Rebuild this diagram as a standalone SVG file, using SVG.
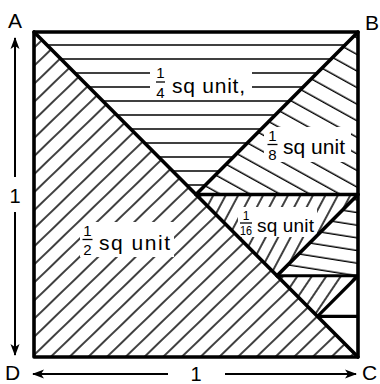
<svg xmlns="http://www.w3.org/2000/svg" width="380" height="384" viewBox="0 0 380 384">
<style>
.h{stroke:#000;stroke-width:1.5}
.thick{stroke:#000;stroke-width:3.6;fill:none;stroke-linecap:round;stroke-linejoin:round}
.med{stroke:#000;stroke-width:3.2;fill:none}
.lbl{font-family:"Liberation Sans",Arial,sans-serif;fill:#000}
.big{font-size:21px}
.num{font-size:15px}
.corner{font-family:"Liberation Sans",Arial,sans-serif;font-size:21px;fill:#000}
.ax{stroke:#000;stroke-width:2;fill:none}
.bar{stroke:#000;stroke-width:1.3}
.gap{fill:#fff}
</style>
<defs>
<pattern id="pHalf" patternUnits="userSpaceOnUse" width="40" height="13" patternTransform="rotate(-44)"><line class="h" x1="0" y1="6" x2="40" y2="6"/></pattern>
<pattern id="pQuarter" patternUnits="userSpaceOnUse" width="40" height="14"><line class="h" x1="0" y1="3" x2="40" y2="3"/></pattern>
<pattern id="pEighth" patternUnits="userSpaceOnUse" width="40" height="14.5" patternTransform="rotate(29)"><line class="h" x1="0" y1="5" x2="40" y2="5"/></pattern>
<pattern id="pSixteenth" patternUnits="userSpaceOnUse" width="40" height="11" patternTransform="rotate(-62)"><line class="h" x1="0" y1="5" x2="40" y2="5"/></pattern>
<pattern id="p32" patternUnits="userSpaceOnUse" width="40" height="12.5" patternTransform="rotate(9)"><line class="h" x1="0" y1="4" x2="40" y2="4"/></pattern>
<pattern id="p64" patternUnits="userSpaceOnUse" width="40" height="12" patternTransform="rotate(-56)"><line class="h" x1="0" y1="5" x2="40" y2="5"/></pattern>
<marker id="ah" viewBox="0 0 12 10" refX="11" refY="5" markerWidth="12" markerHeight="10" markerUnits="userSpaceOnUse" orient="auto">
<path d="M0,0.5 L12,5 L0,9.5 L3,5 z" fill="#000"/>
</marker>
</defs>

<g id="hatching">
<polygon id="region-half" points="34,32 34,357 358,357" fill="url(#pHalf)"/>
<polygon id="region-quarter" points="34,32 358,32 196,194.5" fill="url(#pQuarter)"/>
<polygon id="region-eighth" points="358,32 358,194.5 196,194.5" fill="url(#pEighth)"/>
<polygon id="region-sixteenth" points="196,194.5 358,194.5 277,275.75" fill="url(#pSixteenth)"/>
<polygon id="region-32" points="358,194.5 358,275.75 277,275.75" fill="url(#p32)"/>
<polygon id="region-64" points="277,275.75 358,275.75 317.5,316.4" fill="url(#p64)"/>
<rect class="gap" x="150" y="64" width="102" height="35"/>
<rect class="gap" x="80" y="222" width="94" height="35"/>
<rect class="gap" x="264" y="127" width="87" height="35"/>
<rect class="gap" x="238" y="207" width="79" height="30"/>
</g>

<g id="outlines">
<rect class="thick" x="34" y="32" width="324" height="325"/>
<line class="thick" x1="34" y1="32" x2="358" y2="357"/>
<line class="thick" x1="358" y1="32" x2="196" y2="194.5"/>
<line class="thick" x1="196" y1="194.5" x2="358" y2="194.5"/>
<line class="thick" x1="358" y1="194.5" x2="277" y2="275.75"/>
<line class="med" x1="277" y1="275.75" x2="358" y2="275.75"/>
<line class="med" x1="358" y1="275.75" x2="317.5" y2="316.4"/>
<line class="med" x1="317.5" y1="316.4" x2="358" y2="316.4"/>
</g>

<g id="label-quarter" class="lbl">
<text class="num" x="160.5" y="78" text-anchor="middle">1</text>
<line class="bar" x1="156" y1="82" x2="165" y2="82"/>
<text class="num" x="160.5" y="98" text-anchor="middle">4</text>
<text class="big" x="172" y="93" textLength="73" lengthAdjust="spacing">sq unit,</text>
</g>
<g id="label-half" class="lbl">
<text class="num" x="87.5" y="236" text-anchor="middle">1</text>
<line class="bar" x1="82.5" y1="239.5" x2="92.5" y2="239.5"/>
<text class="num" x="87.5" y="255" text-anchor="middle">2</text>
<text class="big" x="99" y="250" textLength="71" lengthAdjust="spacing">sq unit</text>
</g>
<g id="label-eighth" class="lbl">
<text class="num" x="272.5" y="141" text-anchor="middle">1</text>
<line class="bar" x1="267.5" y1="144.5" x2="277.5" y2="144.5"/>
<text class="num" x="272.5" y="160" text-anchor="middle">8</text>
<text class="big" x="283" y="154" textLength="62" lengthAdjust="spacing">sq unit</text>
</g>
<g id="label-sixteenth" class="lbl">
<text x="246" y="220" text-anchor="middle" font-size="12">1</text>
<line class="bar" x1="240" y1="223" x2="252" y2="223"/>
<text x="246" y="235" text-anchor="middle" font-size="12" textLength="12" lengthAdjust="spacingAndGlyphs">16</text>
<text x="257" y="232" font-size="19" textLength="57" lengthAdjust="spacing">sq unit</text>
</g>

<g id="corners">
<text class="corner" x="15" y="28" text-anchor="middle">A</text>
<text class="corner" x="365" y="30">B</text>
<text class="corner" x="362" y="380">C</text>
<text class="corner" x="12.5" y="380" text-anchor="middle">D</text>
</g>

<g id="connectors">
<line class="ax" x1="15" y1="177" x2="15" y2="38" marker-end="url(#ah)"/>
<line class="ax" x1="15" y1="212" x2="15" y2="355" marker-end="url(#ah)"/>
<line class="ax" x1="168" y1="374" x2="33" y2="374" marker-end="url(#ah)"/>
<line class="ax" x1="225" y1="374" x2="356" y2="374" marker-end="url(#ah)"/>
</g>
<g id="dimension-labels" class="lbl">
<text x="15" y="203" font-size="20" text-anchor="middle">1</text>
<text x="196" y="381" font-size="20" text-anchor="middle">1</text>
</g>
</svg>
